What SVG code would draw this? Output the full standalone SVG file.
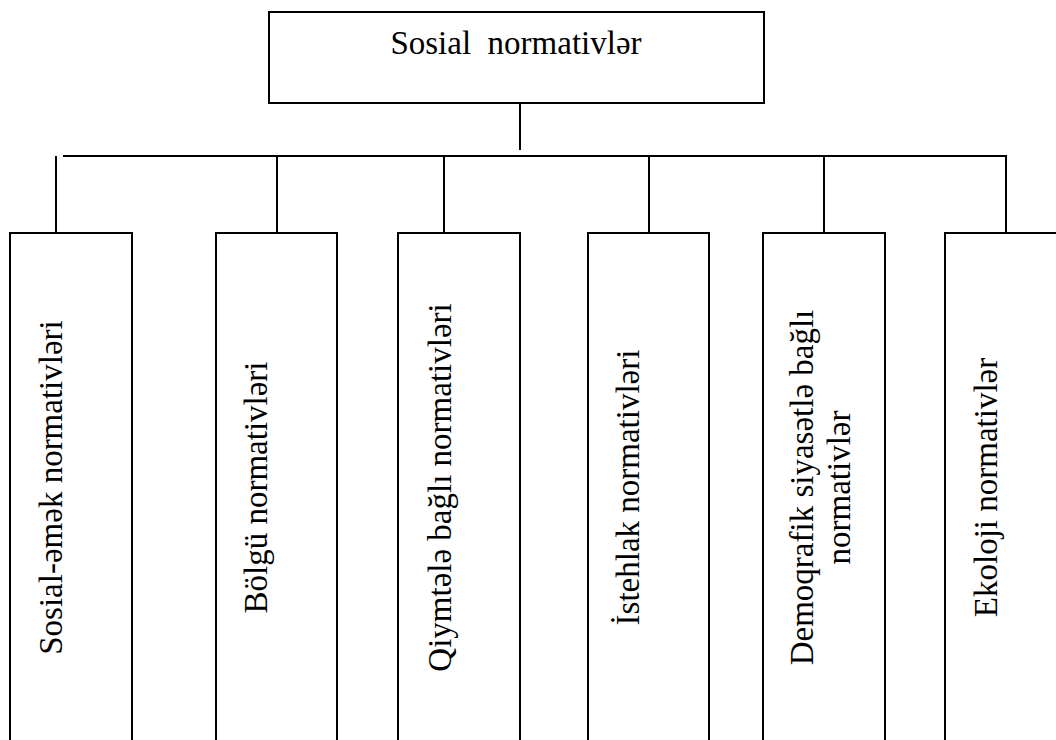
<svg xmlns="http://www.w3.org/2000/svg" width="1056" height="740" viewBox="0 0 1056 740">
<style>
.box{fill:#fff;stroke:#000;stroke-width:2}
.ln{stroke:#000;stroke-width:2;fill:none}
.t{font-family:"Liberation Serif","Times New Roman",serif;font-size:33px;fill:#000;text-anchor:middle}
</style>
<rect width="1056" height="740" fill="#fff"/>
<g id="connectors">
<line class="ln" x1="520" y1="103" x2="520" y2="150"/>
<line class="ln" x1="63" y1="156" x2="1007" y2="156"/>
<line class="ln" x1="56" y1="156" x2="56" y2="233"/>
<line class="ln" x1="277" y1="156" x2="277" y2="233"/>
<line class="ln" x1="444" y1="156" x2="444" y2="233"/>
<line class="ln" x1="649" y1="156" x2="649" y2="233"/>
<line class="ln" x1="824" y1="156" x2="824" y2="233"/>
<line class="ln" x1="1006" y1="156" x2="1006" y2="233"/>
</g>
<g id="root">
<rect class="box" x="269" y="12" width="495" height="91"/>
<text class="t" x="516" y="54" xml:space="preserve">Sosial  normativlər</text>
</g>
<g id="n1">
<rect class="box" x="10" y="233" width="122" height="520"/>
<text class="t" transform="translate(62,487.5) rotate(-90)">Sosial-əmək normativləri</text>
</g>
<g id="n2">
<rect class="box" x="216" y="233" width="121" height="520"/>
<text class="t" transform="translate(267,487.5) rotate(-90)">Bölgü normativləri</text>
</g>
<g id="n3">
<rect class="box" x="398" y="233" width="122" height="520"/>
<text class="t" transform="translate(451,487.5) rotate(-90)">Qiymtələ bağlı normativləri</text>
</g>
<g id="n4">
<rect class="box" x="588" y="233" width="121" height="520"/>
<text class="t" transform="translate(639,487.5) rotate(-90)">İstehlak normativləri</text>
</g>
<g id="n5">
<rect class="box" x="763" y="233" width="122" height="520"/>
<text class="t" transform="translate(813,487.5) rotate(-90)">Demoqrafik siyasətlə bağlı</text>
<text class="t" transform="translate(850,487.5) rotate(-90)">normativlər</text>
</g>
<g id="n6">
<rect class="box" x="945" y="233" width="130" height="520"/>
<text class="t" transform="translate(997,487.5) rotate(-90)">Ekoloji normativlər</text>
</g>
</svg>
